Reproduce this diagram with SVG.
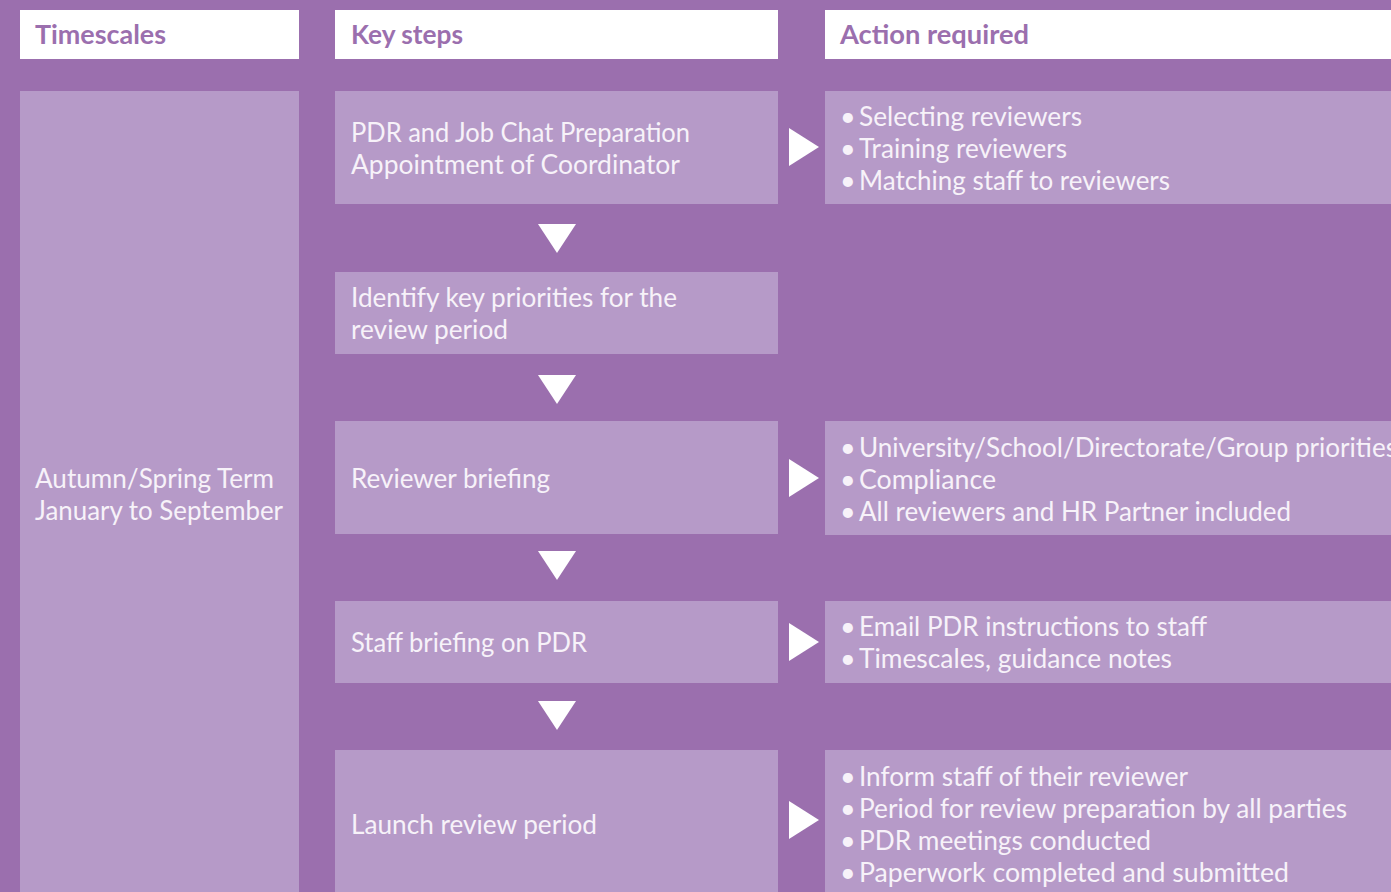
<svg xmlns="http://www.w3.org/2000/svg" width="1391" height="892" viewBox="0 0 1391 892">
<defs>
<style>
.bg{fill:#9b6fae}
.hd{fill:#ffffff}
.bx{fill:#b69ac8}
.ht{font-family:Lato,"Liberation Sans",sans-serif;font-weight:bold;font-size:27px;fill:#9b6fae}
.t{font-family:Lato,"Liberation Sans",sans-serif;font-size:27px;fill:#f7f2f9}
.ar{fill:#ffffff}
</style>
</defs>
<rect class="bg" x="0" y="0" width="1391" height="892"/>
<g id="hdr-timescales"><rect class="hd" x="20" y="10" width="279" height="49"/><text class="ht" x="35" y="44" textLength="131" lengthAdjust="spacingAndGlyphs">Timescales</text></g>
<g id="hdr-keysteps"><rect class="hd" x="335" y="10" width="443" height="49"/><text class="ht" x="351" y="44" textLength="112" lengthAdjust="spacingAndGlyphs">Key steps</text></g>
<g id="hdr-action"><rect class="hd" x="825" y="10" width="566" height="49"/><text class="ht" x="840" y="44" textLength="189" lengthAdjust="spacingAndGlyphs">Action required</text></g>
<g id="timescale"><rect class="bx" x="20" y="91" width="279" height="801"/>
<text class="t" x="35" y="488" textLength="239" lengthAdjust="spacingAndGlyphs">Autumn/Spring Term</text>
<text class="t" x="35" y="520" textLength="248" lengthAdjust="spacingAndGlyphs">January to September</text></g>
<g id="step1"><rect class="bx" x="335" y="91" width="443" height="113"/>
<text class="t" x="351" y="142" textLength="339" lengthAdjust="spacingAndGlyphs">PDR and Job Chat Preparation</text>
<text class="t" x="351" y="174" textLength="329" lengthAdjust="spacingAndGlyphs">Appointment of Coordinator</text></g>
<g id="step2"><rect class="bx" x="335" y="272" width="443" height="82"/>
<text class="t" x="351" y="307" textLength="326" lengthAdjust="spacingAndGlyphs">Identify key priorities for the</text>
<text class="t" x="351" y="339" textLength="157" lengthAdjust="spacingAndGlyphs">review period</text></g>
<g id="step3"><rect class="bx" x="335" y="421" width="443" height="113"/>
<text class="t" x="351" y="488" textLength="199" lengthAdjust="spacingAndGlyphs">Reviewer briefing</text></g>
<g id="step4"><rect class="bx" x="335" y="601" width="443" height="82"/>
<text class="t" x="351" y="652" textLength="236" lengthAdjust="spacingAndGlyphs">Staff briefing on PDR</text></g>
<g id="step5"><rect class="bx" x="335" y="750" width="443" height="142"/>
<text class="t" x="351" y="834" textLength="246" lengthAdjust="spacingAndGlyphs">Launch review period</text></g>
<g id="action1"><rect class="bx" x="825" y="91" width="566" height="113"/>
<text class="t" x="840" y="126">•</text><text class="t" x="859" y="126" textLength="223" lengthAdjust="spacingAndGlyphs">Selecting reviewers</text>
<text class="t" x="840" y="158">•</text><text class="t" x="859" y="158" textLength="208" lengthAdjust="spacingAndGlyphs">Training reviewers</text>
<text class="t" x="840" y="190">•</text><text class="t" x="859" y="190" textLength="311" lengthAdjust="spacingAndGlyphs">Matching staff to reviewers</text></g>
<g id="action3"><rect class="bx" x="825" y="421" width="566" height="114"/>
<text class="t" x="840" y="457">•</text><text class="t" x="859" y="457" textLength="538" lengthAdjust="spacingAndGlyphs">University/School/Directorate/Group priorities</text>
<text class="t" x="840" y="489">•</text><text class="t" x="859" y="489" textLength="137" lengthAdjust="spacingAndGlyphs">Compliance</text>
<text class="t" x="840" y="521">•</text><text class="t" x="859" y="521" textLength="432" lengthAdjust="spacingAndGlyphs">All reviewers and HR Partner included</text></g>
<g id="action4"><rect class="bx" x="825" y="601" width="566" height="82"/>
<text class="t" x="840" y="636">•</text><text class="t" x="859" y="636" textLength="348" lengthAdjust="spacingAndGlyphs">Email PDR instructions to staff</text>
<text class="t" x="840" y="668">•</text><text class="t" x="859" y="668" textLength="313" lengthAdjust="spacingAndGlyphs">Timescales, guidance notes</text></g>
<g id="action5"><rect class="bx" x="825" y="750" width="566" height="142"/>
<text class="t" x="840" y="786">•</text><text class="t" x="859" y="786" textLength="329" lengthAdjust="spacingAndGlyphs">Inform staff of their reviewer</text>
<text class="t" x="840" y="818">•</text><text class="t" x="859" y="818" textLength="488" lengthAdjust="spacingAndGlyphs">Period for review preparation by all parties</text>
<text class="t" x="840" y="850">•</text><text class="t" x="859" y="850" textLength="292" lengthAdjust="spacingAndGlyphs">PDR meetings conducted</text>
<text class="t" x="840" y="882">•</text><text class="t" x="859" y="882" textLength="430" lengthAdjust="spacingAndGlyphs">Paperwork completed and submitted</text></g>
<g id="connectors">
<polygon class="ar" points="538,224 576,224 557,253"/>
<polygon class="ar" points="538,375 576,375 557,404"/>
<polygon class="ar" points="538,551 576,551 557,580"/>
<polygon class="ar" points="538,701 576,701 557,730"/>
<polygon class="ar" points="789,128 789,166 819,147"/>
<polygon class="ar" points="789,459 789,497 819,478"/>
<polygon class="ar" points="789,623 789,661 819,642"/>
<polygon class="ar" points="789,801 789,839 819,820"/>
</g>
</svg>
